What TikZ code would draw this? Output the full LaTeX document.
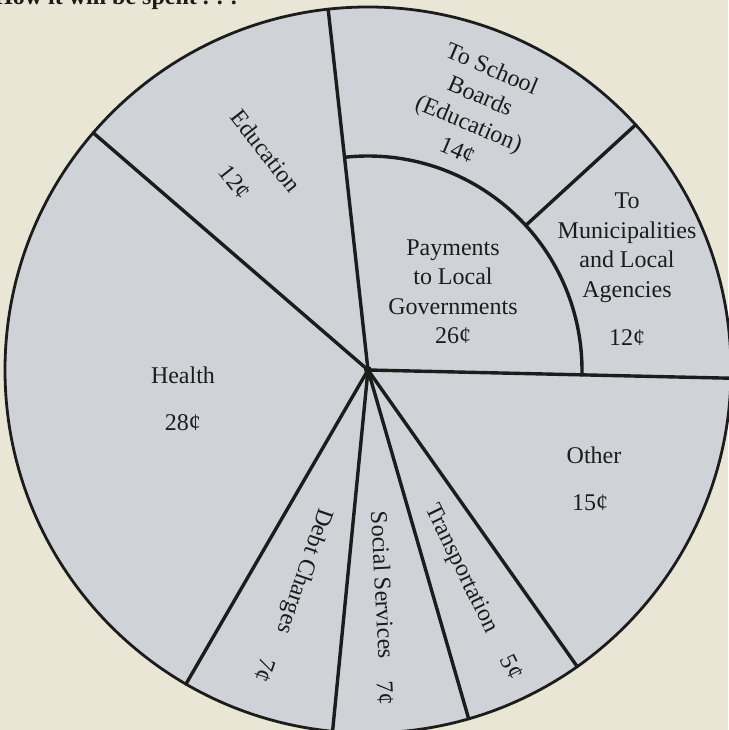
\documentclass[tikz,border=0pt]{standalone}
\usepackage{fontspec}
\setmainfont{Liberation Serif}
\definecolor{bgcream}{RGB}{234,230,214}
\definecolor{piefill}{RGB}{207,211,215}
\definecolor{ink}{RGB}{28,28,28}
\begin{document}
\begin{tikzpicture}[x=1pt,y=1pt,
  lbl/.style={font=\fontsize{24}{29.5}\selectfont, text=ink, align=center, inner sep=0pt},
  slice/.style={draw=ink, line width=3.4pt, line cap=round},
  rim/.style={draw=ink, line width=2.8pt}]
\fill[bgcream] (-368,-360) rectangle (360,370);
\useasboundingbox (-368,-360) rectangle (360,370);
\coordinate (c) at (0,0);
% disc
\fill[piefill] (c) circle[radius=363];
% rim end points
\coordinate (e1) at (96.3:363);
\coordinate (e2) at (139.2:363);
\coordinate (e3) at (239.9:363);
\coordinate (e4) at (264.4:363);
\coordinate (e5) at (286.1:363);
\coordinate (e6) at (305.2:363);
\coordinate (e7) at (-1.3:363);
\coordinate (e8) at (42.5:363);
\coordinate (i1) at (96.3:214);
\coordinate (i8) at (42.5:214);
% slices
\draw[slice] (c) -- (e1);
\draw[slice] (c) -- (e2);
\draw[slice] (c) -- (e3);
\draw[slice] (c) -- (e4);
\draw[slice] (c) -- (e5);
\draw[slice] (c) -- (e6);
\draw[slice] (c) -- (e7);
\draw[slice] (i8) -- (e8);
\draw[slice] (i1) arc[start angle=96.3, end angle=-1.3, radius=214];
\draw[rim] (c) circle[radius=363];
\fill[ink] (c) circle[radius=4];
% header
\node[anchor=base west, font=\fontsize{24}{28}\selectfont\bfseries, text=ink, inner sep=0pt] (hdr) at (-374,365) {How it will be spent . . .};
% labels
\node[lbl, rotate=-52] (edu) at (-102,219) {Education};
\node[lbl, rotate=-52] (eduv) at (-133,188) {12¢};
\node[lbl, rotate=-23] (sch) at (107,261) {To School\\Boards\\(Education)\\14¢};
\node[lbl] (pay) at (85,78) {Payments\\to Local\\Governments\\26¢};
\node[lbl] (mun) at (259,122.5) {To\\Municipalities\\and Local\\Agencies};
\node[lbl] (munv) at (259,32) {12¢};
\node[lbl] (hea) at (-185,-5) {Health};
\node[lbl] (heav) at (-185,-53) {28¢};
\node[lbl] (oth) at (226,-85) {Other};
\node[lbl] (othv) at (222,-133) {15¢};
\node[lbl, rotate=-109] (debt) at (-64,-201) {Debt Charges};
\node[lbl, rotate=-109] (debtv) at (-103,-300) {7¢};
\node[lbl, rotate=-87] (soc) at (15,-215) {Social Services};
\node[lbl, rotate=-87] (socv) at (17,-323) {7¢};
\node[lbl, rotate=-64] (tra) at (93,-199) {Transportation};
\node[lbl, rotate=-64] (trav) at (144,-297) {5¢};
\end{tikzpicture}
\end{document}
